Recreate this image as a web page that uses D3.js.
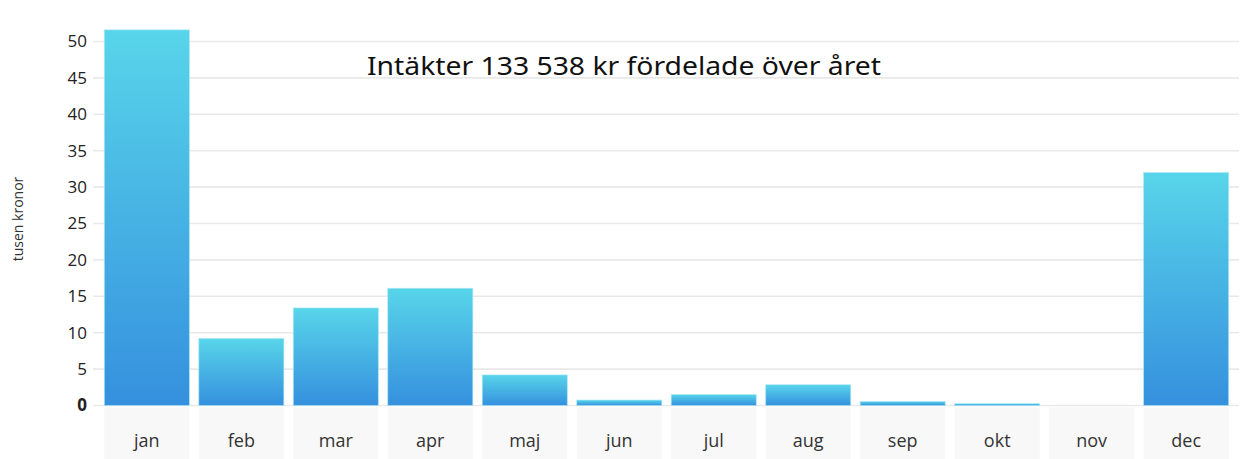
<!DOCTYPE html>
<html><head><meta charset="utf-8">
<script src="https://cdn.jsdelivr.net/npm/d3@7"></script>
<style>body{margin:0;background:#fff;}svg{display:block;}</style>
</head><body>
<svg id="chart" width="1256" height="459"></svg>
<script>
const months = ["jan","feb","mar","apr","maj","jun","jul","aug","sep","okt","nov","dec"];
const values = [51.6, 9.2, 13.4, 16.1, 4.2, 0.75, 1.5, 2.85, 0.55, 0.25, 0, 32.0];
const yTicks = [0,5,10,15,20,25,30,35,40,45,50];
const titleText = "Intäkter 133 538 kr fördelade över året";
const yTitle = "tusen kronor";

const svg = d3.select("#chart");
const x = d3.scaleBand().domain(months).range([93, 1240]).paddingInner(0.1).paddingOuter(0.12);
const y = d3.scaleLinear().domain([0, 50]).range([405.5, 41.5]);

const defs = svg.append("defs");
const g = defs.append("linearGradient").attr("id","barGrad").attr("x1",0).attr("y1",0).attr("x2",0).attr("y2",1);
g.append("stop").attr("offset","0%").attr("stop-color","#58d5ea");
g.append("stop").attr("offset","100%").attr("stop-color","#3590de");

// grid
svg.append("g").selectAll("line").data(yTicks).join("line")
  .attr("x1",93).attr("x2",1239).attr("y1",d=>y(d)).attr("y2",d=>y(d))
  .attr("stroke","#e9e9e9").attr("stroke-width",1.6);

// label boxes
svg.append("g").selectAll("rect").data(months).join("rect")
  .attr("x",d=>x(d)).attr("width",x.bandwidth()).attr("y",407.5).attr("height",52)
  .attr("fill","#f8f8f8");

// y axis
const yAxis = d3.axisLeft(y).tickValues(yTicks).tickSize(0).tickPadding(0);
const ya = svg.append("g").attr("transform","translate(87,0)").call(yAxis);
ya.select(".domain").remove();
ya.selectAll("text").attr("font-family","'Open Sans', sans-serif").attr("font-size",17)
  .attr("fill","#222").attr("font-weight",d=>d===0?"bold":"normal");

// x axis labels
const xAxis = d3.axisBottom(x).tickSize(0).tickPadding(0);
const xa = svg.append("g").attr("transform","translate(0,434)").call(xAxis);
xa.select(".domain").remove();
xa.selectAll("text").attr("font-family","'Open Sans', sans-serif").attr("font-size",18).attr("fill","#333");

// bars
svg.append("g").selectAll("rect").data(values).join("rect")
  .attr("x",(d,i)=>x(months[i])).attr("width",x.bandwidth())
  .attr("y",d=>y(d)).attr("height",d=>y(0)-y(d))
  .attr("fill","url(#barGrad)")
  .attr("stroke",d=>d>0?"#a8e6f3":"none").attr("stroke-width",d=>d>0?0.8:0).attr("stroke-opacity",0.8);

// title
svg.append("text").attr("x",367).attr("y",75).text(titleText)
  .attr("font-family","'Noto Sans', sans-serif").attr("font-size",26).attr("fill","#111")
  .attr("textLength",514).attr("lengthAdjust","spacingAndGlyphs");

// y title
svg.append("text").attr("transform","translate(23,219) rotate(-90)").attr("text-anchor","middle")
  .text(yTitle).attr("font-family","'Open Sans', sans-serif").attr("font-size",14).attr("fill","#333");
</script>
</body></html>
